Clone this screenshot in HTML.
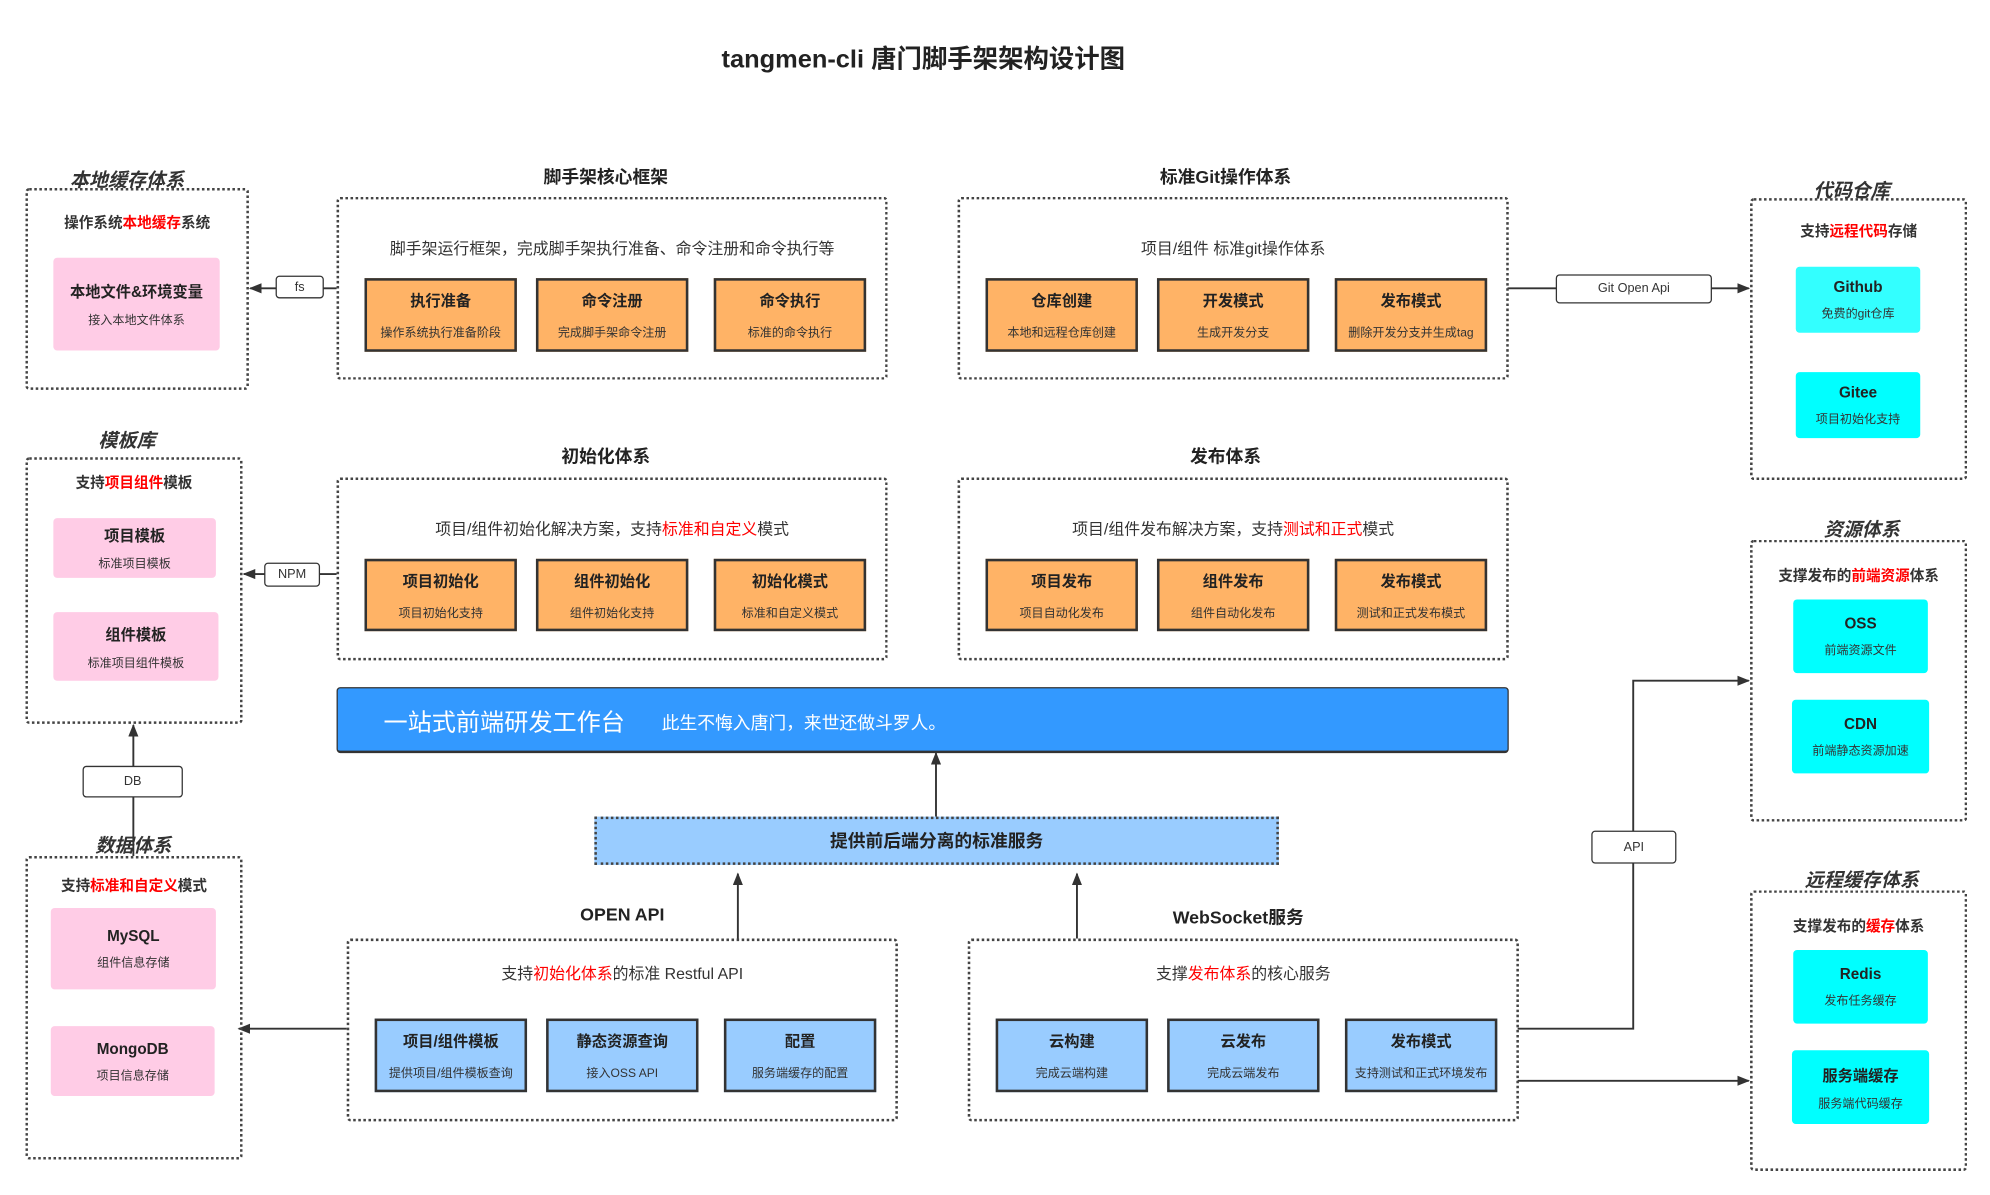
<!DOCTYPE html>
<html><head><meta charset="utf-8"><style>
html,body{margin:0;padding:0;background:#fff;width:1990px;height:1195px;overflow:hidden}
#c{position:absolute;left:0;top:0;width:1567px;height:941px;transform:scale(1.270);transform-origin:0 0;font-family:"Liberation Sans","Noto Sans CJK SC",sans-serif;color:#333}
.a{position:absolute;box-sizing:border-box}
.d{border:2px dotted #444;border-radius:3px}
.t{text-align:center;font-weight:bold;font-size:14px;color:#222;white-space:nowrap;transform:translateX(-50%)}
.ti{font-style:italic;font-size:15px;color:#333}
.s{font-size:12.5px;text-align:center;white-space:nowrap;color:#333}
.sb{font-weight:bold;font-size:11.5px}
.r{color:#f00}
.bx{display:flex;flex-direction:column;align-items:center;justify-content:center;text-align:center;white-space:nowrap}
.bx b{font-size:12px;color:#222}
.bx span{font-size:9.5px;color:#333;margin-top:9px}
.o{background:#ffb366;border:2px solid #333}
.bl{background:#99ccff;border:2px solid #333}
.p{background:#ffcce6;border-radius:3px}
.p span{margin-top:6px}
.cy{background:#00ffff;border-radius:3px}
.cy span{margin-top:6px}
.lb{background:#fff;border:1.5px solid #333;border-radius:3px;font-size:10px;display:flex;align-items:center;justify-content:center;color:#333}
</style></head><body><div id="c">
<div class="a t" style="left:727px;top:30px;font-size:20px">tangmen-cli 唐门脚手架架构设计图</div>

<svg class="a" style="left:0;top:0" width="1567" height="941">
<defs><marker id="m" markerWidth="10" markerHeight="8" refX="9" refY="4" orient="auto" markerUnits="userSpaceOnUse"><path d="M0,0L10,4L0,8z" fill="#333"/></marker></defs>
<g stroke="#333" stroke-width="1.5" fill="none">
<line x1="265" y1="227" x2="197" y2="227" marker-end="url(#m)"/>
<line x1="265" y1="452" x2="192" y2="452" marker-end="url(#m)"/>
<line x1="1187" y1="227" x2="1377" y2="227" marker-end="url(#m)"/>
<line x1="105" y1="674" x2="105" y2="571" marker-end="url(#m)"/>
<line x1="737" y1="643" x2="737" y2="593" marker-end="url(#m)"/>
<line x1="581" y1="739" x2="581" y2="688" marker-end="url(#m)"/>
<line x1="848" y1="739" x2="848" y2="688" marker-end="url(#m)"/>
<line x1="273" y1="810" x2="188" y2="810" marker-end="url(#m)"/>
<polyline points="1195,810 1286,810 1286,536 1377,536" marker-end="url(#m)"/>
<line x1="1195" y1="851" x2="1377" y2="851" marker-end="url(#m)"/>
</g></svg>

<!-- local cache -->
<div class="a d" style="left:20px;top:148px;width:176px;height:159px"></div>
<div class="a t ti" style="left:100px;top:131px">本地缓存体系</div>
<div class="a s sb" style="left:20px;top:167px;width:176px">操作系统<span class="r">本地缓存</span>系统</div>
<div class="a bx p" style="left:42px;top:203px;width:131px;height:73px"><b>本地文件&amp;环境变量</b><span>接入本地文件体系</span></div>
<div class="a lb" style="left:217px;top:217px;width:38px;height:18px">fs</div>

<!-- core -->
<div class="a t" style="left:477px;top:129px">脚手架核心框架</div>
<div class="a d" style="left:265px;top:155px;width:434px;height:144px"></div>
<div class="a s" style="left:265px;top:185px;width:434px">脚手架运行框架，完成脚手架执行准备、命令注册和命令执行等</div>
<div class="a bx o" style="left:287px;top:219px;width:120px;height:58px"><b>执行准备</b><span>操作系统执行准备阶段</span></div>
<div class="a bx o" style="left:422px;top:219px;width:120px;height:58px"><b>命令注册</b><span>完成脚手架命令注册</span></div>
<div class="a bx o" style="left:562px;top:219px;width:120px;height:58px"><b>命令执行</b><span>标准的命令执行</span></div>

<!-- git -->
<div class="a t" style="left:965px;top:129px">标准Git操作体系</div>
<div class="a d" style="left:754px;top:155px;width:434px;height:144px"></div>
<div class="a s" style="left:754px;top:185px;width:434px">项目/组件 标准git操作体系</div>
<div class="a bx o" style="left:776px;top:219px;width:120px;height:58px"><b>仓库创建</b><span>本地和远程仓库创建</span></div>
<div class="a bx o" style="left:911px;top:219px;width:120px;height:58px"><b>开发模式</b><span>生成开发分支</span></div>
<div class="a bx o" style="left:1051px;top:219px;width:120px;height:58px"><b>发布模式</b><span>删除开发分支并生成tag</span></div>
<div class="a lb" style="left:1225px;top:216px;width:123px;height:23px">Git Open Api</div>

<!-- code repo -->
<div class="a d" style="left:1378px;top:156px;width:171px;height:222px"></div>
<div class="a t ti" style="left:1458px;top:139px">代码仓库</div>
<div class="a s sb" style="left:1378px;top:174px;width:171px">支持<span class="r">远程代码</span>存储</div>
<div class="a bx cy" style="left:1414px;top:210px;width:98px;height:52px;background:#33ffff"><b>Github</b><span>免费的git仓库</span></div>
<div class="a bx cy" style="left:1414px;top:293px;width:98px;height:52px"><b>Gitee</b><span>项目初始化支持</span></div>

<!-- template -->
<div class="a t ti" style="left:100px;top:336px">模板库</div>
<div class="a d" style="left:20px;top:360px;width:171px;height:210px"></div>
<div class="a s sb" style="left:20px;top:372px;width:171px">支持<span class="r">项目组件</span>模板</div>
<div class="a bx p" style="left:42px;top:408px;width:128px;height:47px"><b>项目模板</b><span>标准项目模板</span></div>
<div class="a bx p" style="left:42px;top:482px;width:130px;height:54px"><b>组件模板</b><span>标准项目组件模板</span></div>
<div class="a lb" style="left:208px;top:443px;width:44px;height:19px">NPM</div>

<!-- init -->
<div class="a t" style="left:477px;top:349px">初始化体系</div>
<div class="a d" style="left:265px;top:376px;width:434px;height:144px"></div>
<div class="a s" style="left:265px;top:406px;width:434px">项目/组件初始化解决方案，支持<span class="r">标准和自定义</span>模式</div>
<div class="a bx o" style="left:287px;top:440px;width:120px;height:57px"><b>项目初始化</b><span>项目初始化支持</span></div>
<div class="a bx o" style="left:422px;top:440px;width:120px;height:57px"><b>组件初始化</b><span>组件初始化支持</span></div>
<div class="a bx o" style="left:562px;top:440px;width:120px;height:57px"><b>初始化模式</b><span>标准和自定义模式</span></div>

<!-- publish -->
<div class="a t" style="left:965px;top:349px">发布体系</div>
<div class="a d" style="left:754px;top:376px;width:434px;height:144px"></div>
<div class="a s" style="left:754px;top:406px;width:434px">项目/组件发布解决方案，支持<span class="r">测试和正式</span>模式</div>
<div class="a bx o" style="left:776px;top:440px;width:120px;height:57px"><b>项目发布</b><span>项目自动化发布</span></div>
<div class="a bx o" style="left:911px;top:440px;width:120px;height:57px"><b>组件发布</b><span>组件自动化发布</span></div>
<div class="a bx o" style="left:1051px;top:440px;width:120px;height:57px"><b>发布模式</b><span>测试和正式发布模式</span></div>

<!-- resource -->
<div class="a t ti" style="left:1466px;top:406px">资源体系</div>
<div class="a d" style="left:1378px;top:425px;width:171px;height:222px"></div>
<div class="a s sb" style="left:1378px;top:445px;width:171px">支撑发布的<span class="r">前端资源</span>体系</div>
<div class="a bx cy" style="left:1412px;top:472px;width:106px;height:58px"><b>OSS</b><span>前端资源文件</span></div>
<div class="a bx cy" style="left:1411px;top:551px;width:108px;height:58px"><b>CDN</b><span>前端静态资源加速</span></div>

<!-- blue bar -->
<div class="a" style="left:265px;top:541px;width:923px;height:52px;background:#3399ff;border:1.5px solid #333;border-bottom-width:2.5px;border-radius:3px"></div>
<div class="a" style="left:302px;top:554px;font-size:19px;color:#fff;white-space:nowrap">一站式前端研发工作台</div>
<div class="a" style="left:521px;top:559px;font-size:14px;color:#fff;white-space:nowrap">此生不悔入唐门，来世还做斗罗人。</div>

<div class="a" style="left:468px;top:643px;width:539px;height:38px;background:#99ccff;border:2px dotted #444;display:flex;align-items:center;justify-content:center;font-weight:bold;font-size:14px;color:#222">提供前后端分离的标准服务</div>

<!-- open api -->
<div class="a t" style="left:490px;top:712px">OPEN API</div>
<div class="a d" style="left:273px;top:739px;width:434px;height:144px"></div>
<div class="a s" style="left:273px;top:756px;width:434px">支持<span class="r">初始化体系</span>的标准 Restful API</div>
<div class="a bx bl" style="left:295px;top:802px;width:120px;height:58px"><b>项目/组件模板</b><span>提供项目/组件模板查询</span></div>
<div class="a bx bl" style="left:430px;top:802px;width:120px;height:58px"><b>静态资源查询</b><span>接入OSS API</span></div>
<div class="a bx bl" style="left:570px;top:802px;width:120px;height:58px"><b>配置</b><span>服务端缓存的配置</span></div>

<!-- websocket -->
<div class="a t" style="left:975px;top:712px">WebSocket服务</div>
<div class="a d" style="left:762px;top:739px;width:434px;height:144px"></div>
<div class="a s" style="left:762px;top:756px;width:434px">支撑<span class="r">发布体系</span>的核心服务</div>
<div class="a bx bl" style="left:784px;top:802px;width:120px;height:58px"><b>云构建</b><span>完成云端构建</span></div>
<div class="a bx bl" style="left:919px;top:802px;width:120px;height:58px"><b>云发布</b><span>完成云端发布</span></div>
<div class="a bx bl" style="left:1059px;top:802px;width:120px;height:58px"><b>发布模式</b><span>支持测试和正式环境发布</span></div>

<!-- data -->
<div class="a lb" style="left:65px;top:603px;width:79px;height:25px">DB</div>
<div class="a t ti" style="left:105px;top:655px">数据体系</div>
<div class="a d" style="left:20px;top:674px;width:171px;height:239px"></div>
<div class="a s sb" style="left:20px;top:689px;width:171px">支持<span class="r">标准和自定义</span>模式</div>
<div class="a bx p" style="left:40px;top:715px;width:130px;height:64px"><b>MySQL</b><span>组件信息存储</span></div>
<div class="a bx p" style="left:40px;top:808px;width:129px;height:55px"><b>MongoDB</b><span>项目信息存储</span></div>

<!-- remote cache -->
<div class="a lb" style="left:1253px;top:654px;width:67px;height:26px">API</div>
<div class="a t ti" style="left:1466px;top:682px">远程缓存体系</div>
<div class="a d" style="left:1378px;top:701px;width:171px;height:221px"></div>
<div class="a s sb" style="left:1378px;top:721px;width:171px">支撑发布的<span class="r">缓存</span>体系</div>
<div class="a bx cy" style="left:1412px;top:748px;width:106px;height:58px"><b>Redis</b><span>发布任务缓存</span></div>
<div class="a bx cy" style="left:1411px;top:827px;width:108px;height:58px"><b>服务端缓存</b><span>服务端代码缓存</span></div>
</div></body></html>
